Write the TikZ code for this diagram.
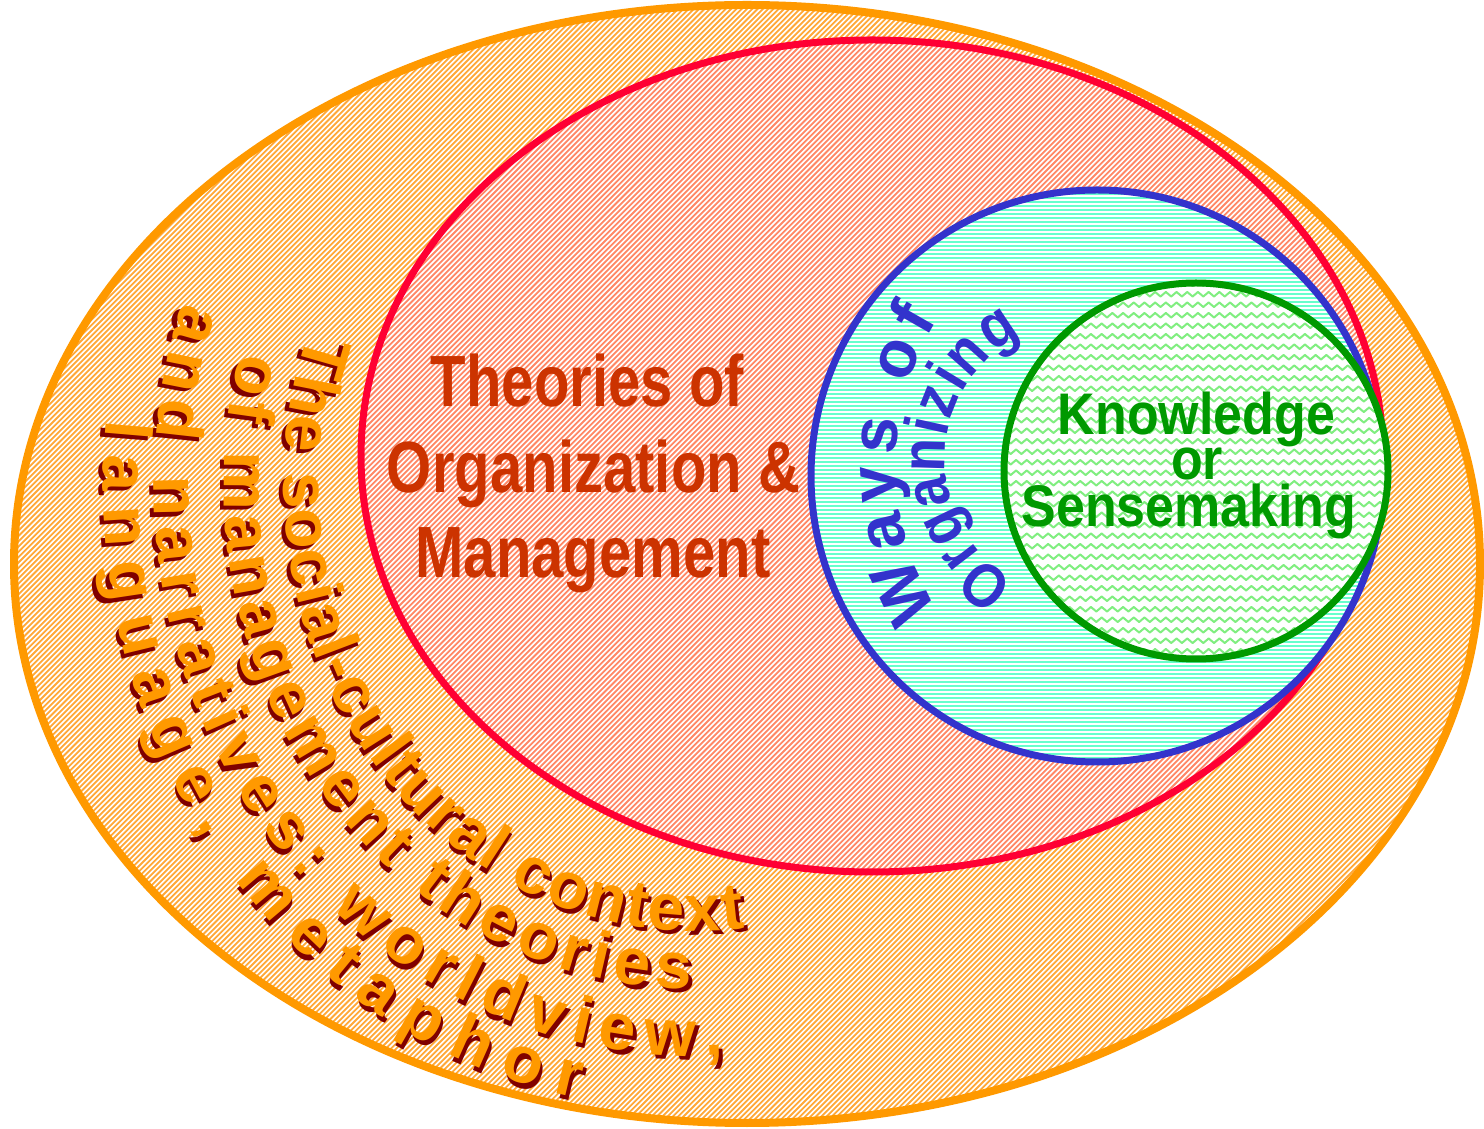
\documentclass[tikz,border=0pt]{standalone}
\usepackage{fontspec}
\setmainfont{Liberation Sans}
\newfontfamily\narrowE{Liberation Sans}[FakeStretch=0.80]
\newfontfamily\narrowK{Liberation Sans}[FakeStretch=0.885]
\newfontfamily\narrowO{Liberation Sans}[FakeStretch=0.88]
\usetikzlibrary{decorations.text}

\definecolor{ringorange}{HTML}{FF9900}
\definecolor{ringred}{HTML}{FF0033}
\definecolor{ringblue}{HTML}{3333CC}
\definecolor{ringgreen}{HTML}{009900}
\definecolor{hatchorange}{HTML}{FFA838}
\definecolor{hatchred}{HTML}{FF8866}
\definecolor{mint}{HTML}{66FFCC}
\definecolor{wavegreen}{HTML}{80EE80}
\definecolor{theorytext}{HTML}{CC3300}
\definecolor{shadowred}{HTML}{800000}

\newcommand\socialfont{\bfseries\fontsize{66}{66}\selectfont}
\newcommand\waysfont{\bfseries\fontsize{66}{66}\selectfont}
\newcommand\orgfont{\narrowO\bfseries\fontsize{62}{62}\selectfont}

\begin{document}
\begin{tikzpicture}[x=1pt,y=1pt,
  theory/.style={font={\narrowE\bfseries\fontsize{72.6}{86}\selectfont}, text=theorytext, anchor=base, inner sep=0pt},
  know/.style={font={\narrowK\bfseries\fontsize{58.7}{46}\selectfont}, text=ringgreen, anchor=base, inner sep=0pt},
  diag/.style={line width=1.8pt},
]
\useasboundingbox (0,0) rectangle (1484,1128);
\fill[white] (0,0) rectangle (1484,1128);

% outer ring: social-cultural context
\begin{scope}
  \clip (747,564) ellipse [x radius=733, y radius=559];
  \draw[diag, hatchorange] foreach \i in {0,...,494} {(-1130+5.3*\i,0) -- ++(1128,1128)};
\end{scope}
\draw[ringorange, line width=8pt] (747,564) ellipse [x radius=733, y radius=559];

% theories of organization & management
\begin{scope}
  \clip (872,672) ellipse [x radius=511, y radius=416];
  \fill[white] (300,200) rectangle (1400,1100);
  \draw[diag, hatchred] foreach \i in {0,...,494} {(-1130+5.3*\i,0) -- ++(1128,1128)};
\end{scope}
\draw[ringred, line width=7pt] (872,672) ellipse [x radius=511, y radius=416];

% ways of organizing
\begin{scope}
  \clip (1097,652) circle [radius=286];
  \fill[white] (800,360) rectangle (1390,945);
  \draw[mint, line width=2.6pt] foreach \i in {0,...,148} {(805,362+4*\i) -- (1390,362+4*\i)};
\end{scope}
\draw[ringblue, line width=7pt] (1097,652) circle [radius=286];

% knowledge or sensemaking
\begin{scope}
  \clip (1196,657) ellipse [x radius=192, y radius=188];
  \fill[white] (1000,460) rectangle (1395,850);
  \draw[wavegreen, line width=2pt, line join=round]
    foreach \r in {0,...,37} {
      (1000,{464+10.5*\r}) foreach \k in {1,...,75} { -- ({1000+5.35*\k},{464+10.5*\r+4.5*mod(\k,2)}) }
    };
\end{scope}
\draw[ringgreen, line width=7pt] (1196,657) ellipse [x radius=192, y radius=188];

% central labels
\node[theory] (th1) at (587.5,721) {Theories of};
\node[theory] (th2) at (593.5,635) {Organization \&};
\node[theory] (th3) at (593,550) {Management};

\node[know] (kn1) at (1196.5,693) {Knowledge};
\node[know] (kn2) at (1197,648) {or};
\node[know] (kn3) at (1189,601) {Sensemaking};

% curved labels inside the blue circle
\path[decorate, decoration={text along path, text align=fit to path,
    text={|\waysfont\color{ringblue}|Ways of}}]
  (1170,663) ++(212:274) arc[start angle=212, end angle=148, radius=274];
\path[decorate, decoration={text along path, text align=fit to path,
    text={|\orgfont\color{ringblue}|Organizing}}]
  (1085,668) ++(240:140) arc[start angle=240, end angle=117, radius=140];

% curved social-cultural text: shadow first, then the orange letters
\path[decorate, decoration={text along path, text align=fit to path, raise=-4pt,
    text={|\socialfont\color{shadowred}|The social-cultural context}}]
  (695,643) ++(160.5:411 and 446) arc[start angle=160.5, end angle=277.5, x radius=411, y radius=446];
\path[decorate, decoration={text along path, text align=fit to path,
    text={|\socialfont\color{ringorange}|The social-cultural context}}]
  (695,643) ++(160:411 and 446) arc[start angle=160, end angle=277, x radius=411, y radius=446];

\path[decorate, decoration={text along path, text align=fit to path, raise=-4pt,
    text={|\socialfont\color{shadowred}|of management theories}}]
  (695,643) ++(165.3:471 and 504) arc[start angle=165.3, end angle=270, x radius=471, y radius=504];
\path[decorate, decoration={text along path, text align=fit to path,
    text={|\socialfont\color{ringorange}|of management theories}}]
  (695,643) ++(164.8:471 and 504) arc[start angle=164.8, end angle=269.5, x radius=471, y radius=504];

\path[decorate, decoration={text along path, text align=fit to path, raise=-4pt,
    text={|\socialfont\color{shadowred}|and narratives: worldview,}}]
  (695,643) ++(161.8:541 and 571) arc[start angle=161.8, end angle=273.4, x radius=541, y radius=571];
\path[decorate, decoration={text along path, text align=fit to path,
    text={|\socialfont\color{ringorange}|and narratives: worldview,}}]
  (695,643) ++(161.4:541 and 571) arc[start angle=161.4, end angle=273, x radius=541, y radius=571];

\path[decorate, decoration={text along path, text align=fit to path, raise=-4pt,
    text={|\socialfont\color{shadowred}|language, metaphor}}]
  (695,643) ++(174.4:592 and 626) arc[start angle=174.4, end angle=258.9, x radius=592, y radius=626];
\path[decorate, decoration={text along path, text align=fit to path,
    text={|\socialfont\color{ringorange}|language, metaphor}}]
  (695,643) ++(174:592 and 626) arc[start angle=174, end angle=258.5, x radius=592, y radius=626];
\end{tikzpicture}
\end{document}
